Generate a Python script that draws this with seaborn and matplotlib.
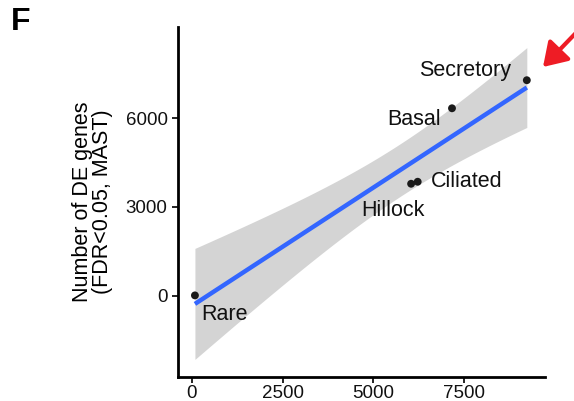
import numpy as np
import pandas as pd
import matplotlib
matplotlib.use("Agg")
import matplotlib.pyplot as plt
import seaborn as sns

# data
cell_types = ["Rare", "Hillock", "Ciliated", "Basal", "Secretory"]
x_vals = [82, 6036, 6217, 7162, 9223]
y_vals = [10, 3786, 3854, 6339, 7288]
# label offsets (pixels) from each point
label_dx = [30, -18, 49, -38, -62]
label_dy = [-19, -27, 0, -11, 10]

x_ticks = [0, 2500, 5000, 7500]
y_ticks = [0, 3000, 6000]

df = pd.DataFrame({"type": cell_types, "cells": x_vals, "de": y_vals})

# linear fit + t-based confidence band (df = n - 2 = 3, 90%)
x = np.array(x_vals, dtype=float)
y = np.array(y_vals, dtype=float)
n = len(x)
slope, intercept = np.polyfit(x, y, 1)
resid = y - (slope * x + intercept)
s = np.sqrt((resid ** 2).sum() / (n - 2))
t_crit = 2.353
grid = np.linspace(x.min(), x.max(), 200)
fit = slope * grid + intercept
se = s * np.sqrt(1 / n + (grid - x.mean()) ** 2 / ((x - x.mean()) ** 2).sum())

sns.set_style("ticks")
plt.rcParams["font.family"] = ["Liberation Sans", "DejaVu Sans"]
plt.rcParams["text.color"] = "black"
plt.rcParams["axes.labelcolor"] = "black"
plt.rcParams["axes.edgecolor"] = "black"

fig = plt.figure(figsize=(5.74, 4.01), dpi=100)
ax = fig.add_axes([0.310, 0.0606, 0.6395, 0.8728])

ax.fill_between(grid, fit - t_crit * se, fit + t_crit * se, color="#d4d4d4",
                lw=0, zorder=1)
sns.regplot(data=df, x="cells", y="de", ax=ax, ci=None, scatter=False,
            truncate=True,
            line_kws={"color": "#3366FF", "lw": 3.2, "solid_capstyle": "butt",
                      "zorder": 2})

sns.scatterplot(data=df, x="cells", y="de", ax=ax, color="#1a1a1a", s=32,
                edgecolor="none", zorder=5)

for name, xv, yv, dx, dy in zip(cell_types, x_vals, y_vals, label_dx, label_dy):
    ax.annotate(name, (xv, yv), xytext=(dx, dy), textcoords="offset pixels",
                ha="center", va="center", fontsize=15.5, color="#111111")

ax.set_xlim(-386, 9724)
ax.set_ylim(-2740, 9098)
ax.set_xticks(x_ticks)
ax.set_yticks(y_ticks)
ax.tick_params(labelsize=13.5, width=1.3, length=4, colors="#111111")
ax.tick_params(axis="x", pad=2)
ax.set_xlabel("")
ax.set_ylabel("Number of DE genes\n(FDR<0.05, MAST)", fontsize=15.5, labelpad=9,
              linespacing=0.95)
for side in ["left", "bottom"]:
    ax.spines[side].set_linewidth(2)
sns.despine(ax=ax)

fig.text(0.019, 0.982, "F", fontsize=23, fontweight="bold", va="top", color="black")
fig.add_artist(matplotlib.patches.FancyArrowPatch(
    (600 / 574, 1 - 8 / 401), (543 / 574, 1 - 67 / 401),
    transform=fig.transFigure, arrowstyle="-|>,head_length=14,head_width=9",
    shrinkA=0, shrinkB=0, color="#ee1c25", lw=3, clip_on=False))

fig.savefig("out.png", dpi=100)
